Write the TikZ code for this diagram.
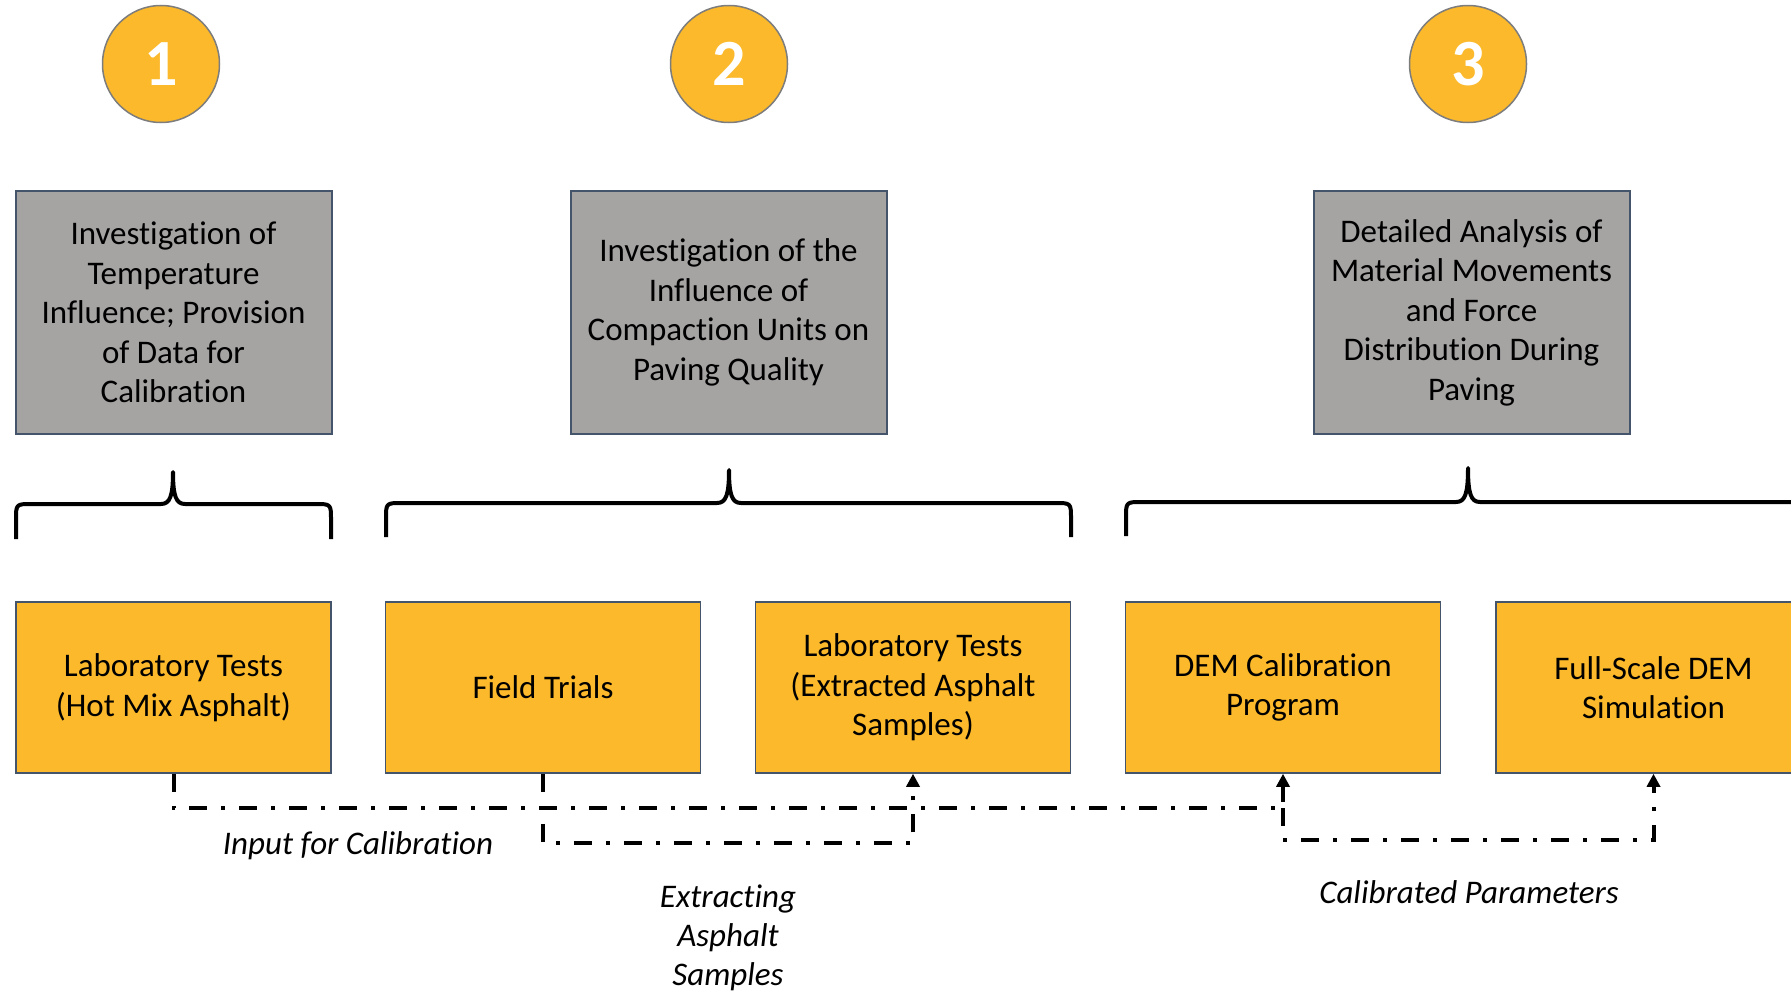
\documentclass[tikz,border=0pt]{standalone}
\usepackage{fontspec}
\setmainfont[Ligatures=NoCommon]{Carlito}
\usetikzlibrary{arrows.meta}

\definecolor{amber}{RGB}{251,185,43}
\definecolor{boxgray}{RGB}{166,163,163}
\definecolor{edgeblue}{RGB}{68,84,106}
\definecolor{ringgray}{RGB}{125,125,125}

\tikzset{
  stage/.style={circle, draw=ringgray, line width=1.5pt, fill=amber, minimum size=117pt, inner sep=0pt, text=white, font=\fontsize{66}{66}\selectfont\bfseries},
  topicbox/.style={rectangle, draw=edgeblue, line width=2pt, fill=boxgray, minimum width=316pt, minimum height=243pt, align=center, inner sep=0pt, font=\fontsize{33}{39.5}\selectfont},
  taskbox/.style={rectangle, draw=edgeblue, line width=1.5pt, fill=amber, minimum width=315pt, minimum height=171pt, align=center, inner sep=0pt, font=\fontsize{33}{39.5}\selectfont},
  flow/.style={line width=4pt, dash pattern=on 18pt off 14pt on 4pt off 14pt, -{Triangle[length=13pt,width=13pt]}},
  bracestroke/.style={line width=4pt, line join=round},
  note/.style={align=center, font=\fontsize{33}{39}\selectfont\itshape}
}

\newcommand\mybrace[6]{% x0, x1, xt, yt, yb, ye
  \draw[bracestroke] (#1,#6) -- (#1,#5+16) .. controls (#1,#5) .. (#1+16,#5)
    -- (#3-12,#5) .. controls (#3-3,#5) and (#3,#5-8) .. (#3,#4)
    .. controls (#3,#5-8) and (#3+3,#5) .. (#3+12,#5)
    -- (#2-16,#5) .. controls (#2,#5) .. (#2,#5+16) -- (#2,#6);
}

\begin{document}
\begin{tikzpicture}[x=1pt,y=-1pt]
\useasboundingbox (0,0) rectangle (1791,993);
\clip (0,0) rectangle (1791,993);

% numbered stage circles
\node[stage] (s1) at (161,64) {1};
\node[stage] (s2) at (729,64) {2};
\node[stage] (s3) at (1468,64) {3};

% topic boxes
\node[topicbox] (t1) at (173.5,312.5) {Investigation of\\Temperature\\Influence; Provision\\of Data for\\Calibration};
\node[topicbox] (t2) at (728.5,312.5) {Investigation of the\\Influence of\\Compaction Units on\\Paving Quality};
\node[topicbox] (t3) at (1471.5,312.5) {Detailed Analysis of\\Material Movements\\and Force\\Distribution During\\Paving};

% braces
\mybrace{16}{331}{173}{472}{504}{539}
\mybrace{386}{1071}{729}{470}{503}{537}
\mybrace{1126}{1900}{1468}{468}{502}{536}

% task boxes
\node[taskbox] (lab1) at (173.5,687.5) {Laboratory Tests\\(Hot Mix Asphalt)};
\node[taskbox] (field) at (543,687.5) {Field Trials};
\node[taskbox] (lab2) at (913,687.5) {Laboratory Tests\\(Extracted Asphalt\\Samples)};
\node[taskbox] (dem) at (1283,687.5) {DEM Calibration\\Program};
\node[taskbox] (full) at (1653.5,687.5) {Full-Scale DEM\\Simulation};

% connectors
\coordinate (yA) at (0,808);
\coordinate (yB) at (0,843);
\coordinate (yC) at (0,840);
\draw[flow] (lab1.south) -- (lab1.south |- yA) -| (dem.south);
\draw[flow] (field.south) -- (field.south |- yB) -| (lab2.south);
\coordinate (jc) at (dem.south |- yA);
\draw[flow] (jc) -- (jc |- yC) -| (full.south);

% labels
\node[note] (inlab) at (358,846) {Input for Calibration};
\node[note] (exlab) at (728,938) {Extracting\\Asphalt\\Samples};
\node[note] (callab) at (1469,892) {Calibrated Parameters};
\end{tikzpicture}
\end{document}
